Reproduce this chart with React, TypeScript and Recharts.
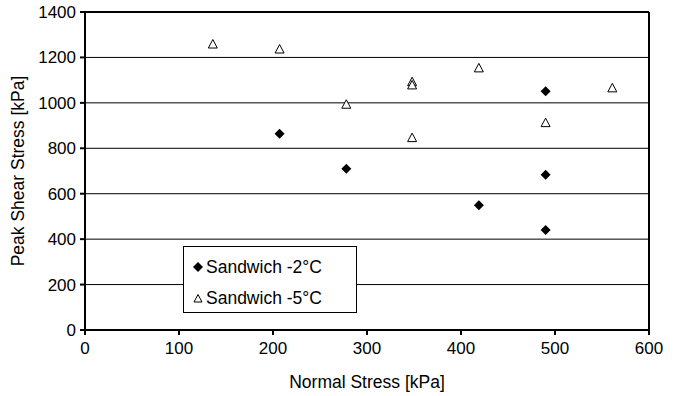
import { ScatterChart, Scatter, XAxis, YAxis, CartesianGrid, ReferenceLine } from 'recharts';

const xTicks = [0, 100, 200, 300, 400, 500, 600];
const yTicks = [0, 200, 400, 600, 800, 1000, 1200, 1400];

const minus2X = [207, 278, 419, 490, 490, 490];
const minus2Y = [864, 710, 549, 1051, 684, 440];

const minus5X = [136, 207, 278, 348, 348, 348, 419, 490, 561];
const minus5Y = [1259, 1237, 994, 1093, 1079, 847, 1154, 913, 1066];

const seriesNames = ['Sandwich -2°C', 'Sandwich -5°C'];

const minus2 = minus2X.map((x, i) => ({ x, y: minus2Y[i] }));
const minus5 = minus5X.map((x, i) => ({ x, y: minus5Y[i] }));

const font = 'Arial, "Liberation Sans", sans-serif';

const Diamond = (props: any) => {
  const { cx, cy } = props;
  return <polygon points={`${cx},${cy - 5} ${cx + 5},${cy} ${cx},${cy + 5} ${cx - 5},${cy}`} fill="#000" />;
};

const Triangle = (props: any) => {
  const { cx, cy } = props;
  return (
    <polygon
      points={`${cx},${cy - 4.5} ${cx + 4.5},${cy + 4} ${cx - 4.5},${cy + 4}`}
      fill="#fff"
      stroke="#000"
      strokeWidth={1}
    />
  );
};

// legend box drawn over the plot area, like the original
const LegendBox = () => (
  <div
    style={{
      position: 'absolute',
      left: 183,
      top: 246,
      width: 174,
      height: 67,
      border: '1.5px solid #000',
      background: '#fff',
      fontFamily: font,
      fontSize: 17.5,
      color: '#000',
      boxSizing: 'border-box',
      paddingTop: 10,
    }}
  >
    <div style={{ display: 'flex', alignItems: 'center', height: 20, paddingLeft: 8 }}>
      <svg width={12} height={12}>
        <polygon points="6,1 11,6 6,11 1,6" fill="#000" />
      </svg>
      <span style={{ marginLeft: 2 }}>{seriesNames[0]}</span>
    </div>
    <div style={{ display: 'flex', alignItems: 'center', height: 20, paddingLeft: 8, marginTop: 11 }}>
      <svg width={12} height={12}>
        <polygon points="6,2.5 10,10 2,10" fill="#fff" stroke="#000" strokeWidth={1} />
      </svg>
      <span style={{ marginLeft: 2 }}>{seriesNames[1]}</span>
    </div>
  </div>
);

export default function App() {
  return (
    <div style={{ position: 'absolute', left: 0, top: 0, width: 679, height: 396, background: '#fff' }}>
      <ScatterChart width={679} height={396} margin={{ top: 12, right: 30, bottom: 0, left: 0 }}>
        <CartesianGrid vertical={false} stroke="#000" strokeWidth={1} />
        <XAxis
          type="number"
          dataKey="x"
          domain={[0, 600]}
          ticks={xTicks}
          height={66}
          stroke="#000"
          strokeWidth={2}
          tickSize={5}
          tick={{ fill: '#000', fontSize: 17, fontFamily: font }}
          tickMargin={7}
          label={{ value: 'Normal Stress [kPa]', position: 'insideBottom', offset: 8, fill: '#000', fontSize: 17.5, fontFamily: font }}
        />
        <YAxis
          type="number"
          dataKey="y"
          domain={[0, 1400]}
          ticks={yTicks}
          width={85}
          stroke="#000"
          strokeWidth={2}
          tickSize={5}
          tick={{ fill: '#000', fontSize: 17, fontFamily: font }}
          tickMargin={4}
          label={{ value: 'Peak Shear Stress [kPa]', angle: -90, position: 'insideLeft', offset: 18, fill: '#000', fontSize: 17.5, fontFamily: font, style: { textAnchor: 'middle' } }}
        />
        <ReferenceLine x={600} stroke="#000" strokeWidth={2} />
        <ReferenceLine y={1400} stroke="#000" strokeWidth={2} />
        <Scatter name={seriesNames[0]} data={minus2} shape={<Diamond />} isAnimationActive={false} />
        <Scatter name={seriesNames[1]} data={minus5} shape={<Triangle />} isAnimationActive={false} />
      </ScatterChart>
      <LegendBox />
    </div>
  );
}
